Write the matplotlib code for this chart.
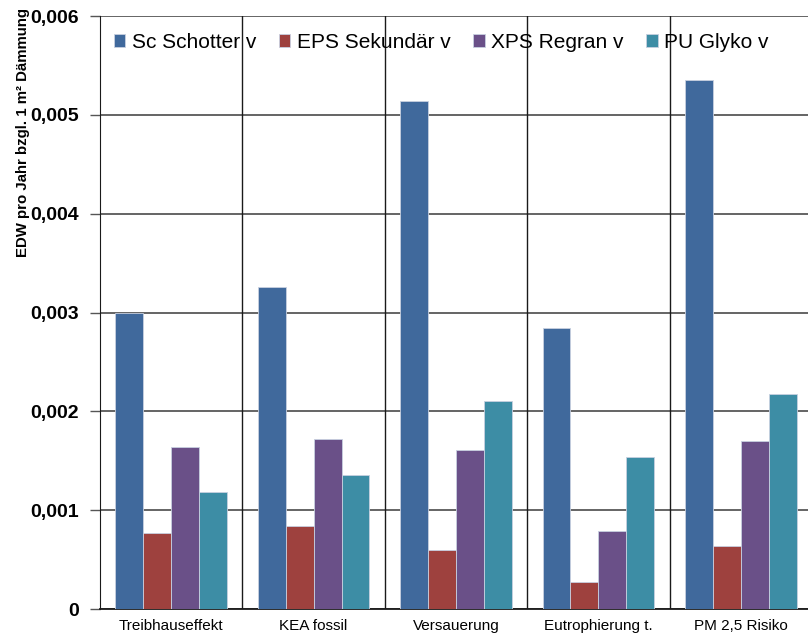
import matplotlib
matplotlib.use("Agg")
import matplotlib.pyplot as plt
from matplotlib.ticker import FuncFormatter
import numpy as np

categories = ["Treibhauseffekt", "KEA fossil", "Versauerung", "Eutrophierung t.", "PM 2,5 Risiko"]
series_names = ["Sc Schotter v", "EPS Sekundär v", "XPS Regran v", "PU Glyko v"]
sc_schotter = [0.00300, 0.00326, 0.00514, 0.00284, 0.00535]
eps_sekundaer = [0.00077, 0.00084, 0.00060, 0.00027, 0.00064]
xps_regran = [0.00164, 0.00172, 0.00161, 0.00079, 0.00170]
pu_glyko = [0.00118, 0.00136, 0.00210, 0.00154, 0.00218]
y_ticks = [0, 0.001, 0.002, 0.003, 0.004, 0.005, 0.006]
colours = ["#40699C", "#9E413E", "#6A5088", "#3D8DA5"]

plt.rcParams['font.family'] = ['Liberation Sans', 'DejaVu Sans']

fig = plt.figure(figsize=(8.08, 6.39), dpi=100)
ax = fig.add_axes([100 / 808, 30 / 639, 712 / 808, 593 / 639])

x = np.arange(len(categories))
width = 0.196
all_series = [sc_schotter, eps_sekundaer, xps_regran, pu_glyko]
for i, (values, name, colour) in enumerate(zip(all_series, series_names, colours)):
    offset = (i - 1.5) * width
    ax.bar(x + offset, values, width, color=colour, label=name,
           edgecolor="#c8d0e0", linewidth=0.6, zorder=3)

ax.set_xlim(-0.5, len(categories) - 0.5)
ax.set_ylim(0, 0.006)

# Horizontal gridlines and category separators
ax.set_yticks(y_ticks)
ax.yaxis.set_major_formatter(FuncFormatter(lambda v, _: "0" if v == 0 else f"{v:.3f}".replace(".", ",")))
ax.grid(axis="y", color="#3a3a3a", linewidth=1.1, zorder=0)
ax.set_axisbelow(True)
for b in np.arange(0.5, len(categories) - 0.5, 1):
    ax.axvline(b, color="#1a1a1a", linewidth=1.0, zorder=1)

ax.set_xticks(x, labels=categories)
ax.tick_params(axis="x", length=0, labelsize=11, pad=7)
ax.tick_params(axis="y", length=7, width=1, color="#555555", labelsize=14, pad=8)
for lbl in ax.get_yticklabels():
    lbl.set_fontweight("bold")

for s in ["top", "right"]:
    ax.spines[s].set_visible(False)
ax.spines["left"].set_color("#1a1a1a")
ax.spines["bottom"].set_color("#1a1a1a")
ax.spines["bottom"].set_linewidth(1.3)

ax.set_ylabel("EDW pro Jahr bzgl. 1 m² Dämmung", fontsize=10.8, fontweight="bold")
ax.yaxis.set_label_coords(-0.099, 0.803)

ax.legend(loc="upper left", ncol=4, frameon=False, fontsize=15,
          handlelength=0.55, handleheight=0.55, handletextpad=0.3,
          columnspacing=1.1, bbox_to_anchor=(-0.004, 1.0), borderaxespad=0.4)

fig.savefig("out.png", dpi=100)
